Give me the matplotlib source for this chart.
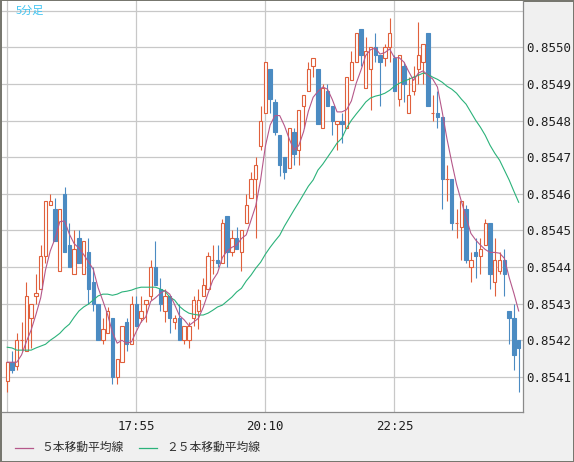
import matplotlib
matplotlib.use('Agg')
import matplotlib.pyplot as plt
from matplotlib.lines import Line2D
import numpy as np
import pandas as pd

# 5-minute candles
opens = [0.85409, 0.85414, 0.85413, 0.85420, 0.85417, 0.85426, 0.85432, 0.85434, 0.85443, 0.85457,
         0.85456, 0.85439, 0.85460, 0.85446, 0.85438, 0.85448, 0.85438, 0.85444, 0.85436, 0.85430,
         0.85420, 0.85422, 0.85426, 0.85410, 0.85414, 0.85425, 0.85419, 0.85430, 0.85426, 0.85430,
         0.85432, 0.85440, 0.85434, 0.85428, 0.85432, 0.85425, 0.85426, 0.85420, 0.85420, 0.85426,
         0.85428, 0.85432, 0.85434, 0.85442, 0.85442, 0.85441, 0.85454, 0.85444, 0.85448, 0.85444,
         0.85452, 0.85459, 0.85464, 0.85473, 0.85482, 0.85494, 0.85485, 0.85476, 0.85470, 0.85467,
         0.85477, 0.85472, 0.85484, 0.85488, 0.85495, 0.85494, 0.85478, 0.85488, 0.85484, 0.85479,
         0.85480, 0.85478, 0.85491, 0.85496, 0.85505, 0.85489, 0.85494, 0.85500, 0.85498, 0.85497,
         0.85500, 0.85497, 0.85486, 0.85495, 0.85482, 0.85488, 0.85494, 0.85496, 0.85504, 0.85482,
         0.85482, 0.85481, 0.85464, 0.85464, 0.85452, 0.85451, 0.85456, 0.85440, 0.85444, 0.85443,
         0.85446, 0.85452, 0.85436, 0.85439, 0.85442, 0.85428, 0.85426, 0.85420]
highs = [0.85414, 0.85417, 0.85422, 0.85425, 0.85436, 0.85430, 0.85438, 0.85446, 0.85458, 0.85460,
         0.85459, 0.85456, 0.85462, 0.85452, 0.85450, 0.85450, 0.85447, 0.85448, 0.85440, 0.85430,
         0.85426, 0.85429, 0.85426, 0.85415, 0.85424, 0.85426, 0.85432, 0.85432, 0.85432, 0.85431,
         0.85442, 0.85447, 0.85437, 0.85434, 0.85432, 0.85427, 0.85430, 0.85424, 0.85425, 0.85432,
         0.85434, 0.85437, 0.85444, 0.85446, 0.85446, 0.85453, 0.85454, 0.85450, 0.85451, 0.85450,
         0.85460, 0.85466, 0.85470, 0.85484, 0.85496, 0.85494, 0.85486, 0.85476, 0.85470, 0.85478,
         0.85478, 0.85483, 0.85487, 0.85496, 0.85497, 0.85494, 0.85490, 0.85490, 0.85484, 0.85480,
         0.85482, 0.85492, 0.85499, 0.85504, 0.85505, 0.85503, 0.85500, 0.85504, 0.85498, 0.85501,
         0.85508, 0.85498, 0.85498, 0.85496, 0.85492, 0.85495, 0.85507, 0.85501, 0.85504, 0.85487,
         0.85488, 0.85481, 0.85468, 0.85464, 0.85456, 0.85458, 0.85457, 0.85444, 0.85448, 0.85448,
         0.85453, 0.85452, 0.85448, 0.85444, 0.85445, 0.85428, 0.85430, 0.85420]
lows = [0.85406, 0.85411, 0.85412, 0.85417, 0.85417, 0.85418, 0.85430, 0.85434, 0.85441, 0.85457,
        0.85447, 0.85439, 0.85444, 0.85440, 0.85438, 0.85441, 0.85438, 0.85430, 0.85428, 0.85420,
        0.85419, 0.85422, 0.85408, 0.85408, 0.85414, 0.85417, 0.85419, 0.85424, 0.85425, 0.85425,
        0.85431, 0.85435, 0.85428, 0.85425, 0.85422, 0.85423, 0.85420, 0.85419, 0.85418, 0.85424,
        0.85423, 0.85432, 0.85434, 0.85438, 0.85440, 0.85441, 0.85440, 0.85443, 0.85445, 0.85439,
        0.85452, 0.85459, 0.85448, 0.85472, 0.85482, 0.85482, 0.85476, 0.85465, 0.85464, 0.85467,
        0.85468, 0.85468, 0.85478, 0.85488, 0.85492, 0.85479, 0.85478, 0.85484, 0.85476, 0.85472,
        0.85474, 0.85478, 0.85491, 0.85496, 0.85495, 0.85489, 0.85483, 0.85496, 0.85484, 0.85495,
        0.85496, 0.85488, 0.85484, 0.85485, 0.85482, 0.85487, 0.85490, 0.85490, 0.85484, 0.85480,
        0.85478, 0.85456, 0.85458, 0.85450, 0.85448, 0.85442, 0.85441, 0.85436, 0.85437, 0.85438,
        0.85446, 0.85434, 0.85432, 0.85438, 0.85432, 0.85419, 0.85412, 0.85406]
closes = [0.85414, 0.85412, 0.85420, 0.85420, 0.85432, 0.85430, 0.85433, 0.85443, 0.85458, 0.85458,
          0.85447, 0.85456, 0.85444, 0.85440, 0.85445, 0.85441, 0.85447, 0.85434, 0.85430, 0.85420,
          0.85423, 0.85428, 0.85410, 0.85415, 0.85424, 0.85419, 0.85430, 0.85424, 0.85428, 0.85431,
          0.85440, 0.85435, 0.85430, 0.85432, 0.85426, 0.85426, 0.85420, 0.85424, 0.85424, 0.85431,
          0.85431, 0.85435, 0.85443, 0.85442, 0.85441, 0.85452, 0.85444, 0.85448, 0.85445, 0.85450,
          0.85457, 0.85464, 0.85468, 0.85480, 0.85496, 0.85486, 0.85477, 0.85468, 0.85466, 0.85478,
          0.85471, 0.85483, 0.85487, 0.85494, 0.85497, 0.85479, 0.85489, 0.85484, 0.85480, 0.85480,
          0.85479, 0.85492, 0.85496, 0.85504, 0.85498, 0.85499, 0.85500, 0.85498, 0.85496, 0.85500,
          0.85504, 0.85488, 0.85498, 0.85490, 0.85487, 0.85492, 0.85498, 0.85501, 0.85484, 0.85482,
          0.85481, 0.85464, 0.85464, 0.85452, 0.85452, 0.85458, 0.85442, 0.85442, 0.85443, 0.85445,
          0.85452, 0.85438, 0.85442, 0.85442, 0.85438, 0.85426, 0.85416, 0.85418]

# first four 5-bar averages depend on bars before the window
ma5_head = [0.85414, 0.85414, 0.85414, 0.85416]

# 25-bar moving average
ma25 = [0.854181, 0.854179, 0.854173, 0.854173, 0.854173, 0.854173, 0.854179, 0.854184, 0.854189, 0.854200,
        0.854209, 0.854219, 0.854233, 0.854244, 0.854263, 0.854280, 0.854291, 0.854299, 0.854310, 0.854321,
        0.854326, 0.854326, 0.854323, 0.854326, 0.854332, 0.854334, 0.854337, 0.854342, 0.854345, 0.854345,
        0.854345, 0.854345, 0.854340, 0.854334, 0.854318, 0.854310, 0.854293, 0.854282, 0.854274, 0.854271,
        0.854269, 0.854269, 0.854274, 0.854282, 0.854291, 0.854296, 0.854307, 0.854318, 0.854332, 0.854342,
        0.854362, 0.854378, 0.854397, 0.854413, 0.854435, 0.854454, 0.854471, 0.854487, 0.854512, 0.854534,
        0.854556, 0.854577, 0.854599, 0.854621, 0.854638, 0.854665, 0.854681, 0.854700, 0.854719, 0.854739,
        0.854752, 0.854780, 0.854801, 0.854818, 0.854834, 0.854851, 0.854862, 0.854867, 0.854870, 0.854875,
        0.854883, 0.854894, 0.854902, 0.854908, 0.854913, 0.854919, 0.854924, 0.854930, 0.854927, 0.854919,
        0.854913, 0.854905, 0.854894, 0.854886, 0.854875, 0.854859, 0.854845, 0.854823, 0.854801, 0.854782,
        0.854760, 0.854733, 0.854711, 0.854692, 0.854665, 0.854638, 0.854607, 0.854577]

xtick_pos = [0, 27, 54, 81]
xtick_labels = ['', '17:55', '20:10', '22:25']
ytick_vals = [0.8541, 0.8542, 0.8543, 0.8544, 0.8545, 0.8546, 0.8547, 0.8548, 0.8549, 0.8550, 0.8551]
ytick_labels = ['0.8541', '0.8542', '0.8543', '0.8544', '0.8545', '0.8546', '0.8547', '0.8548',
                '0.8549', '0.8550', '']

UP = '#e0603c'
DOWN = '#4b8bc2'
MA5_COL = '#b5588a'
MA25_COL = '#2bb27a'
GRID = '#c8c8c8'
JP = ['Noto Sans CJK JP', 'DejaVu Sans']

o = np.array(opens)
h = np.array(highs)
l = np.array(lows)
c = np.array(closes)
x = np.arange(len(c))

ma5 = pd.Series(c).rolling(5).mean().to_numpy()
ma5[:4] = ma5_head

W, H = 574, 462
fig = plt.figure(figsize=(W / 100, H / 100), dpi=100)
fig.patch.set_facecolor('#f0f0f0')
fig.patch.set_edgecolor('#77776f')
fig.patch.set_linewidth(2)

ax = fig.add_axes([1.5 / W, 50 / H, 521.5 / W, 411 / H])
ax.set_facecolor('white')

up = c >= o
wick_cols = [UP if u else DOWN for u in up]
ax.vlines(x, l, h, colors=wick_cols, lw=0.8, zorder=2)

bottom = np.minimum(o, c)
height = np.abs(c - o)
face = ['white' if u else DOWN for u in up]
ax.bar(x, height, bottom=bottom, width=0.7, color=face, edgecolor=wick_cols,
       linewidth=0.8, zorder=3)

ax.plot(x, ma25, color=MA25_COL, lw=0.8, zorder=4)
ax.plot(x, ma5, color=MA5_COL, lw=0.8, zorder=5)

ax.set_xlim(-1.2, 107.9)
ax.set_ylim(0.854004, 0.855127)

ax.set_xticks(xtick_pos)
ax.set_xticklabels(xtick_labels, family='DejaVu Sans Mono', fontsize=9, color='#202020')
ax.set_yticks(ytick_vals)
ax.set_yticklabels(ytick_labels, family='DejaVu Sans Mono', fontsize=9, color='#202020')
ax.yaxis.tick_right()
ax.tick_params(axis='y', length=0, pad=2)
ax.tick_params(axis='x', length=0, pad=6)
ax.grid(True, color=GRID, lw=0.9, zorder=0)
ax.set_axisbelow(True)

for side in ['left', 'top']:
    ax.spines[side].set_visible(False)
for side in ['right', 'bottom']:
    ax.spines[side].set_color('#8a8a8a')
    ax.spines[side].set_linewidth(0.9)

ax.text(14 / 521.5, 1 - 10 / 411, '5分足', transform=ax.transAxes, family=JP,
        fontsize=8, color='#3ec4f2', va='center', ha='left')

# legend at the bottom
ly = 1 - 447.5 / H
fig.add_artist(Line2D([15 / W, 33 / W], [ly, ly], color=MA5_COL, lw=0.9))
fig.text(41 / W, ly, '５本移動平均線', family=JP, fontsize=8.5, color='#303030', va='center')
fig.add_artist(Line2D([139 / W, 157 / W], [ly, ly], color=MA25_COL, lw=0.9))
fig.text(166 / W, ly, '２５本移動平均線', family=JP, fontsize=8.5, color='#303030', va='center')

fig.savefig('out.png', dpi=100)
